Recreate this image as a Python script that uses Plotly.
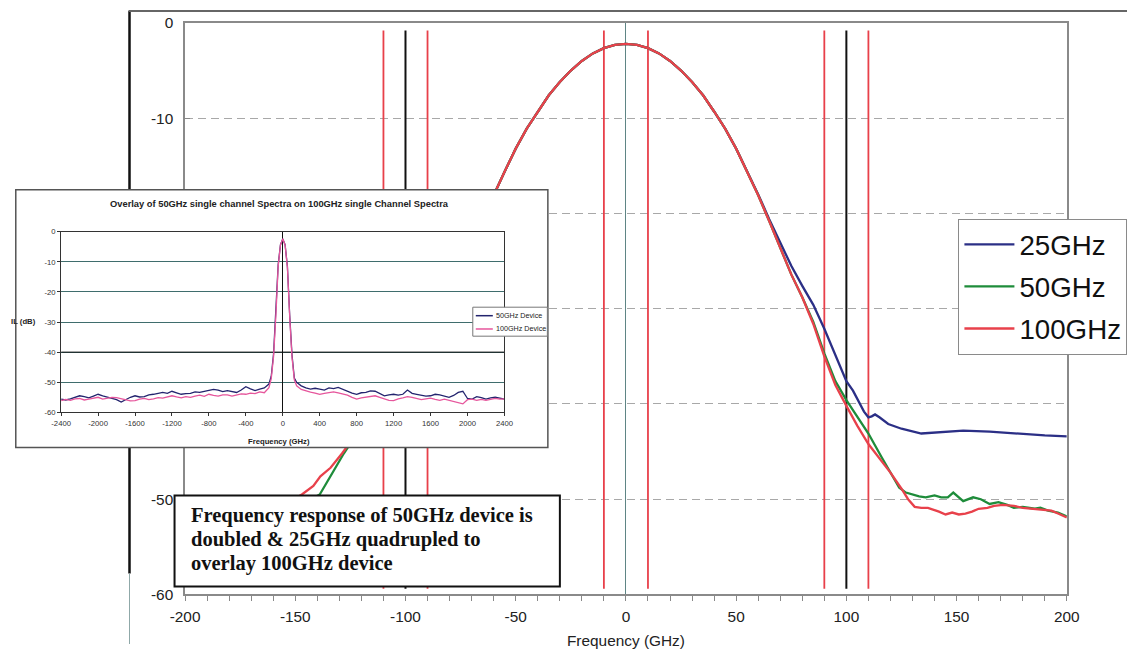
import plotly.graph_objects as go

# Figure size (the page body keeps its default 8px margin)
W, H = 1140, 652
BODY = 8
# the page is shown reduced to fit the window: screen = OFF + SCALE * page
SCALE, OFF_X, OFF_Y = 0.9746, 6.8, 0.3
FS = 1 / SCALE  # font / stroke compensation

# ---------------- main chart data (dB vs GHz offset) ----------------
freq_25 = [-200, -175, -150, -130, -120, -110, -100, -90, -80, -70, -65, -60, -55, -50, -45,
           -40, -35, -30, -25, -20, -15, -10, -5, 0, 5, 10, 15, 20, 25, 30, 35, 40, 45, 50,
           55, 60, 65, 70, 75, 80, 85, 90, 95, 100, 103, 106, 108, 110, 111.5, 113, 115, 119,
           125, 134, 145, 153, 165, 176, 190, 200]
il_25 = [-43.8, -43.6, -43.5, -43.2, -42.3, -40.0, -36.5, -32.0, -27.5, -23.2, -20.6, -18.1,
         -15.6, -13.2, -11.1, -9.3, -7.6, -6.2, -5.0, -4.0, -3.2, -2.65, -2.3, -2.2, -2.3,
         -2.65, -3.2, -4.0, -5.0, -6.2, -7.6, -9.3, -11.1, -13.2, -15.6, -18.0, -20.6, -23.1,
         -25.5, -27.6, -29.6, -32.1, -34.9, -37.6, -38.6, -39.9, -40.8, -41.4, -41.3, -41.1,
         -41.4, -42.1, -42.6, -43.1, -42.9, -42.8, -42.9, -43.1, -43.3, -43.4]

freq_50 = [-200, -180, -160, -145, -138.9, -133.3, -128, -120, -110, -100, -90, -80, -70, -65,
           -60, -55, -50, -45, -40, -35, -30, -25, -20, -15, -10, -5, 0, 5, 10, 15, 20, 25,
           30, 35, 40, 45, 50, 55, 60, 65, 70, 75, 80, 85, 90, 95, 100, 105, 110, 116, 120,
           124, 127, 130, 133, 136, 140, 143, 146, 148.5, 151, 153, 157.5, 161, 165, 169, 173,
           176, 180, 185.5, 188, 191.5, 196, 200]
il_50 = [-51.5, -51.0, -50.5, -50.3, -49.5, -47.3, -45.2, -42.4, -39.0, -35.2, -31.2, -27.0,
         -22.6, -20.2, -18.1, -15.6, -13.2, -11.1, -9.3, -7.6, -6.2, -5.0, -4.0, -3.2, -2.65,
         -2.3, -2.2, -2.3, -2.65, -3.2, -4.0, -5.0, -6.2, -7.6, -9.3, -11.1, -13.2, -15.6,
         -18.1, -20.8, -23.6, -26.4, -28.8, -31.4, -34.7, -37.6, -39.6, -41.3, -43.1, -45.6,
         -47.2, -48.8, -49.3, -49.5, -49.7, -49.8, -49.6, -49.8, -49.8, -49.3, -49.8, -50.2,
         -49.8, -50.0, -50.5, -50.3, -50.6, -50.9, -50.8, -51.0, -50.9, -51.2, -51.4, -51.8]

freq_100 = [-200, -180, -165, -155, -147, -141.8, -138.6, -134, -128.8, -120, -110, -100, -90,
            -80, -70, -65, -60, -55, -50, -45, -40, -35, -30, -25, -20, -15, -10, -5, 0, 5,
            10, 15, 20, 25, 30, 35, 40, 45, 50, 55, 60, 65, 70, 75, 80, 85, 90, 95, 100, 105,
            110, 115, 120, 125, 128, 131, 134, 137, 140, 142, 145, 148, 151, 154, 157, 160,
            164, 167, 171, 176, 180, 185, 190, 193, 196, 200]
il_100 = [-52.0, -51.5, -51.2, -50.6, -49.5, -48.6, -47.6, -46.7, -45.2, -42.4, -39.0, -35.2,
          -31.2, -27.0, -22.6, -20.2, -18.1, -15.6, -13.2, -11.1, -9.3, -7.6, -6.2, -5.0,
          -4.0, -3.2, -2.65, -2.3, -2.2, -2.3, -2.65, -3.2, -4.0, -5.0, -6.2, -7.6, -9.3,
          -11.1, -13.2, -15.6, -18.1, -20.8, -23.6, -26.4, -28.8, -31.6, -35.0, -38.0, -40.2,
          -42.3, -44.2, -45.7, -47.2, -48.9, -50.0, -50.8, -50.9, -50.9, -51.1, -51.3, -51.6,
          -51.4, -51.6, -51.5, -51.3, -51.0, -50.9, -50.7, -50.6, -50.7, -50.9, -51.0, -51.1,
          -51.2, -51.5, -51.9]

series_names = ["25GHz", "50GHz", "100GHz"]
series_colors = ["#2b2f86", "#1e8c3a", "#e8414b"]

x_ticks = [-200, -150, -100, -50, 0, 50, 100, 150, 200]
y_ticks = [0, -10, -20, -30, -40, -50, -60]
# the inset panel sits over the -20 to -40 labels
y_tick_text = ["0", "-10", "", "", "", "-50", "-60"]

channel_edges_ghz = [-110, -90, -10, 10, 90, 110]
channel_centres_ghz = [-100, 100]

# ---------------- inset data: wide-span spectra ----------------
inset_freq = [-2400, -2350, -2300, -2250, -2200, -2150, -2100, -2050, -2000, -1950, -1900,
              -1850, -1800, -1750, -1700, -1650, -1600, -1550, -1500, -1450, -1400, -1350,
              -1300, -1250, -1200, -1150, -1100, -1050, -1000, -950, -900, -850, -800, -750,
              -700, -650, -600, -550, -500, -450, -400, -350, -300, -250, -200, -150, -125,
              -100, -75, -50, -25, 0, 25, 50, 75, 100, 125, 150, 200, 250, 300, 350, 400, 450,
              500, 550, 600, 650, 700, 750, 800, 850, 900, 950, 1000, 1050, 1100, 1150, 1200,
              1250, 1300, 1350, 1400, 1450, 1500, 1550, 1600, 1650, 1700, 1750, 1800, 1850,
              1900, 1950, 2000, 2050, 2100, 2150, 2200, 2250, 2300, 2350, 2400]
inset_50ghz_dev = [-55.6, -55.9, -55.5, -55.0, -54.5, -54.8, -55.2, -54.6, -54.0, -54.5, -54.9,
                   -55.3, -55.8, -56.6, -55.7, -55.0, -54.5, -54.9, -54.8, -54.2, -54.0, -53.6,
                   -53.4, -53.7, -53.0, -53.5, -54.0, -53.8, -53.7, -53.2, -53.4, -53.0, -52.8,
                   -52.4, -52.6, -53.1, -52.8, -53.0, -53.4, -52.6, -51.5, -52.2, -52.8, -52.3,
                   -51.9, -50.6, -48.0, -40.6, -27.4, -11.0, -4.3, -2.4, -4.3, -11.5, -27.8,
                   -41.0, -48.6, -50.0, -51.2, -51.9, -52.3, -52.0, -52.3, -52.6, -51.9, -52.1,
                   -51.7, -52.4, -53.0, -53.6, -54.0, -53.5, -53.4, -52.9, -53.0, -53.8, -54.5,
                   -54.2, -54.0, -54.3, -54.0, -52.6, -53.7, -54.0, -54.2, -54.6, -54.5, -54.0,
                   -54.2, -54.7, -55.0, -54.4, -53.4, -53.0, -55.4, -55.6, -54.8, -55.1, -55.6,
                   -55.2, -55.0, -55.3, -55.6]
inset_100ghz_dev = [-56.1, -55.7, -56.0, -55.5, -55.4, -55.9, -55.6, -55.2, -55.0, -55.6, -55.3,
                    -55.0, -55.1, -55.5, -55.8, -56.2, -56.1, -55.6, -55.4, -55.8, -55.5, -55.1,
                    -55.3, -54.9, -54.5, -54.9, -55.2, -54.8, -55.0, -54.6, -54.3, -54.7, -54.0,
                    -54.4, -54.6, -54.2, -54.2, -54.6, -54.3, -53.9, -54.0, -53.6, -53.8, -53.2,
                    -53.5, -51.8, -48.8, -41.5, -28.0, -11.5, -4.4, -2.3, -4.4, -11.8, -28.4,
                    -41.8, -49.2, -51.2, -52.4, -52.9, -53.3, -53.6, -54.0, -53.7, -53.4, -53.2,
                    -53.5, -53.9, -54.3, -55.0, -55.6, -55.2, -54.9, -54.6, -54.5, -55.0, -55.6,
                    -56.0, -56.1, -55.5, -55.2, -54.8, -55.0, -55.4, -55.8, -55.5, -55.3, -55.7,
                    -56.0, -55.6, -56.0, -56.3, -56.6, -57.2, -55.8, -55.6, -56.0, -55.7, -56.0,
                    -55.8, -55.4, -55.6, -55.5]
inset_x_ticks = [-2400, -2000, -1600, -1200, -800, -400, 0, 400, 800, 1200, 1600, 2000, 2400]
inset_y_ticks = [0, -10, -20, -30, -40, -50, -60]
inset_names = ["50GHz Device", "100GHz Device"]
inset_colors = ["#23246e", "#e6569c"]

note_lines = ["Frequency response of 50GHz device is",
              "doubled &amp; 25GHz quadrupled to",
              "overlay 100GHz device"]


def px(sx):
    """screen column -> paper fraction (kept inside the figure)"""
    f = ((sx - OFF_X) / SCALE - BODY) / W
    return min(max(f, 0.0007), 1.0)


def py(sy):
    """screen row -> paper fraction (kept inside the figure)"""
    f = 1 - ((sy - OFF_Y) / SCALE - BODY) / H
    return min(max(f, 0.0), 1.0)


def fs(size):
    return round(size * FS, 2)


def labels(vals):
    return [str(v) for v in vals]


fig = go.Figure()

# main spectra
for fx, fy, name, col in zip([freq_25, freq_50, freq_100], [il_25, il_50, il_100],
                             series_names, series_colors):
    fig.add_trace(go.Scatter(x=fx, y=fy, mode="lines", name=name, legendgroup=name,
                             line=dict(color=col, width=2.3), xaxis="x", yaxis="y"))

# opaque panel behind the inset chart
fig.add_trace(go.Scatter(x=[0, 1, 1, 0, 0], y=[0, 0, 1, 1, 0], mode="lines", fill="toself",
                         fillcolor="white", line=dict(width=0, color="white"),
                         showlegend=False, hoverinfo="skip", xaxis="x2", yaxis="y2"))

# inset spectra
for iy, col in zip([inset_50ghz_dev, inset_100ghz_dev], inset_colors):
    fig.add_trace(go.Scatter(x=inset_freq, y=iy, mode="lines", showlegend=False,
                             line=dict(color=col, width=1.3), xaxis="x3", yaxis="y3"))

font_main = "Arial, Liberation Sans, sans-serif"
font_narrow = "Liberation Sans Narrow, Arial Narrow, Liberation Sans"

shapes = []
# outer frame
shapes.append(dict(type="line", xref="paper", yref="paper", x0=px(129), x1=px(129),
                   y0=py(10), y1=py(573), line=dict(color="#111", width=2.5), layer="below"))
shapes.append(dict(type="line", xref="paper", yref="paper", x0=px(129), x1=px(129),
                   y0=py(573), y1=py(651), line=dict(color="#8fa8a8", width=1), layer="below"))
shapes.append(dict(type="line", xref="paper", yref="paper", x0=px(128), x1=px(1140),
                   y0=py(10), y1=py(10), line=dict(color="#666", width=2), layer="below"))
# channel markers
for v in channel_edges_ghz:
    shapes.append(dict(type="line", xref="x", yref="y", x0=v, x1=v, y0=-59.4, y1=-0.8,
                       line=dict(color="#e8404a", width=1.8), layer="between"))
for v in channel_centres_ghz:
    shapes.append(dict(type="line", xref="x", yref="y", x0=v, x1=v, y0=-59.4, y1=-0.8,
                       line=dict(color="#111", width=2), layer="between"))
# inset frame
shapes.append(dict(type="rect", xref="paper", yref="paper", x0=px(8), x1=px(547),
                   y0=py(447), y1=py(189), line=dict(color="#555", width=1.5),
                   fillcolor="rgba(0,0,0,0)", layer="above"))
# inset -40 dB reference line
shapes.append(dict(type="line", xref="x3", yref="y3", x0=-2400, x1=2400, y0=-40, y1=-40,
                   line=dict(color="#111", width=1), layer="between"))
# inset legend box and samples
shapes.append(dict(type="rect", xref="paper", yref="paper", x0=px(472), x1=px(546.5),
                   y0=py(335.5), y1=py(306.5), line=dict(color="#777", width=1),
                   fillcolor="white", layer="above"))
for yy, col in zip([315, 328.3], inset_colors):
    shapes.append(dict(type="line", xref="paper", yref="paper", x0=px(475), x1=px(492),
                       y0=py(yy), y1=py(yy), line=dict(color=col, width=1.5), layer="above"))
# note box
shapes.append(dict(type="rect", xref="paper", yref="paper", x0=px(174), x1=px(559),
                   y0=py(586), y1=py(495), line=dict(color="#111", width=2),
                   fillcolor="white", layer="above"))

annotations = []
for i, t in enumerate(note_lines):
    annotations.append(dict(xref="paper", yref="paper", x=px(188), y=py(515 + 24.2 * i),
                            xanchor="left", yanchor="middle", showarrow=False,
                            text="<b>" + t + "</b>",
                            font=dict(family="Liberation Serif, Times New Roman, serif",
                                      size=fs(20), color="#111")))
annotations.append(dict(xref="paper", yref="paper", x=px(278.6), y=py(203.5), showarrow=False,
                        xanchor="center", yanchor="middle",
                        text="<b>Overlay of 50GHz single channel Spectra on 100GHz single Channel Spectra</b>",
                        font=dict(family=font_narrow, size=fs(9.1), color="#222")))
annotations.append(dict(xref="paper", yref="paper", x=px(278.6), y=py(441), showarrow=False,
                        xanchor="center", yanchor="middle", text="<b>Frequency (GHz)</b>",
                        font=dict(family=font_narrow, size=fs(7.5), color="#222")))
annotations.append(dict(xref="paper", yref="paper", x=px(23), y=py(321), showarrow=False,
                        xanchor="center", yanchor="middle", text="<b>IL (dB)</b>",
                        font=dict(family=font_narrow, size=fs(7.5), color="#222")))
for yy, name in zip([315, 328.3], inset_names):
    annotations.append(dict(xref="paper", yref="paper", x=px(493.5), y=py(yy), showarrow=False,
                            xanchor="left", yanchor="middle", text=name,
                            font=dict(family=font_narrow, size=fs(7), color="#222")))

fig.update_layout(
    width=W, height=H, margin=dict(l=0, r=0, t=0, b=0),
    paper_bgcolor="white", plot_bgcolor="white",
    font=dict(family=font_main, color="#222"),
    showlegend=True,
    legend=dict(x=px(957), y=py(218), xanchor="left", yanchor="top",
                bgcolor="white", bordercolor="#8a8a8a", borderwidth=1.2,
                font=dict(family=font_main, size=fs(27), color="#111"),
                traceorder="grouped", tracegroupgap=3, itemwidth=50),
    xaxis=dict(domain=[px(184.5), px(1065.5)], range=[-200, 200], anchor="y",
               tickmode="array", tickvals=x_ticks, ticktext=labels(x_ticks),
               ticks="outside", ticklen=5, tickcolor="#888", tickwidth=1,
               minor=dict(tickmode="linear", tick0=0, dtick=10, ticks="outside", ticklen=5,
                          tickcolor="#888", showgrid=False),
               showline=True, linecolor="#8a8a8a", linewidth=1.5, mirror=True,
               showgrid=False, zeroline=True, zerolinecolor="#5f8585", zerolinewidth=1,
               tickfont=dict(size=fs(15), color="#222"), ticklabelstandoff=2,
               title=dict(text="Frequency (GHz)", font=dict(size=fs(15), color="#222"),
                          standoff=12)),
    yaxis=dict(domain=[py(594), py(22)], range=[-60, 0], anchor="x",
               tickmode="array", tickvals=y_ticks, ticktext=y_tick_text,
               ticks="inside", ticklen=5, tickcolor="#888",
               showline=True, linecolor="#8a8a8a", linewidth=1.5, mirror=True,
               showgrid=True, gridcolor="#a8a8a8", gridwidth=1.2, griddash="8px,5px",
               zeroline=False, tickfont=dict(size=fs(15), color="#222"), ticklabelstandoff=7),
    xaxis2=dict(domain=[px(8), px(547)], range=[0, 1], visible=False, anchor="y2",
                fixedrange=True),
    yaxis2=dict(domain=[py(447), py(189)], range=[0, 1], visible=False, anchor="x2",
                fixedrange=True),
    xaxis3=dict(domain=[px(60.7), px(503.6)], range=[-2400, 2400], anchor="y3",
                tickmode="array", tickvals=inset_x_ticks, ticktext=labels(inset_x_ticks),
                ticks="outside", ticklen=3, tickcolor="#333",
                showline=True, linecolor="#333", linewidth=1, mirror=True,
                showgrid=False, zeroline=True, zerolinecolor="#111", zerolinewidth=1,
                tickfont=dict(size=fs(7.5), color="#333")),
    yaxis3=dict(domain=[py(411.7), py(231)], range=[-60, 0], anchor="x3",
                tickmode="array", tickvals=inset_y_ticks, ticktext=labels(inset_y_ticks),
                ticks="outside", ticklen=3, tickcolor="#333",
                showline=True, linecolor="#333", linewidth=1, mirror=True,
                showgrid=True, gridcolor="#3f6d6d", gridwidth=1,
                zeroline=False, tickfont=dict(size=fs(7.5), color="#333")),
    shapes=shapes,
    annotations=annotations,
)

fig.write_html("out.html")
